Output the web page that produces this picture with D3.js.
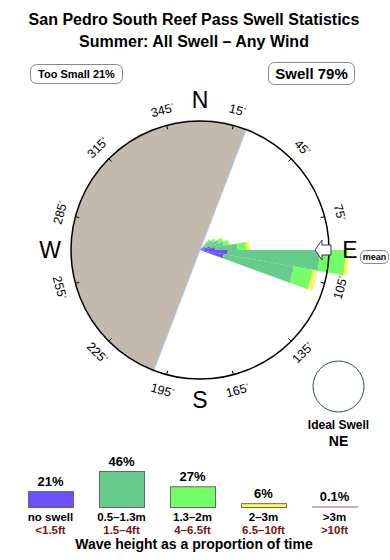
<!DOCTYPE html>
<html>
<head>
<meta charset="utf-8">
<script src="https://cdn.jsdelivr.net/npm/d3@7"></script>
<style>
  body { margin: 0; background: #fff; }
  text { font-family: "Liberation Sans", Arial, Helvetica, sans-serif; }
</style>
</head>
<body>
<div id="chart"></div>
<script>
// ---- data ----
const titleLines = ["San Pedro South Reef Pass Swell Statistics", "Summer: All Swell \u2013 Any Wind"];
const tooSmallPct = 21;
const swellPct = 79;

// rose sectors (compass degrees, 10 deg wide), values in % of time
const sectorStart = [40, 50, 60, 70, 80, 90, 100];
const sectorWidth = 10;
const noSwell = [0.6, 1.0, 1.2, 2.0, 3.0, 5.4, 4.7];
const band05 = [1.5, 1.9, 2.7, 2.7, 4.3, 17.8, 13.8];
const band13 = [0.6, 0.6, 0.8, 1.0, 1.7, 5.0, 3.7];
const band2 = [0.0, 0.0, 0.1, 0.2, 0.6, 0.6, 0.8];
const band3 = [0, 0, 0, 0, 0, 0, 0.05];

const meanDir = 90;
const idealDir = "NE";
const shadowFrom = 201, shadowTo = 381; // sheltered sector

const tickAngles = [15, 45, 75, 105, 135, 165, 195, 225, 255, 285, 315, 345];
const cardinals = [["N", 0], ["E", 90], ["S", 180], ["W", 270]];

const legendPct = [21, 46, 27, 6, 0.1];
const legendPctLabel = ["21%", "46%", "27%", "6%", "0.1%"];
const legendMetric = ["no swell", "0.5\u20131.3m", "1.3\u20132m", "2\u20133m", ">3m"];
const legendFeet = ["<1.5ft", "1.5\u20134ft", "4\u20136.5ft", "6.5\u201310ft", ">10ft"];
const bandColors = ["#6a52ff", "#66cc8c", "#74ff66", "#ffff44", "#c8b0b0"];

// ---- layout ----
const W = 390, H = 560;
const cx = 200, cy = 250, R = 129;

const svg = d3.select("#chart").append("svg")
  .attr("width", W).attr("height", H);

// titles
svg.selectAll(".title")
  .data(titleLines)
  .enter().append("text")
  .attr("class", "title")
  .attr("x", 194)
  .attr("y", (d, i) => 25 + i * 22)
  .attr("text-anchor", "middle")
  .style("font-size", "16px")
  .style("font-weight", "bold")
  .text(d => d);

// summary boxes
function pillBox(x0, x1, y0, y1, label, size) {
  svg.append("rect")
    .attr("x", x0).attr("y", y0)
    .attr("width", x1 - x0).attr("height", y1 - y0)
    .attr("rx", 6)
    .attr("fill", "#fff")
    .attr("stroke", "#888")
    .attr("stroke-width", 1);
  svg.append("text")
    .attr("x", (x0 + x1) / 2)
    .attr("y", (y0 + y1) / 2)
    .attr("dy", "0.36em")
    .attr("text-anchor", "middle")
    .style("font-size", size + "px")
    .style("font-weight", "bold")
    .text(label);
}
pillBox(30.5, 122.5, 64.5, 83.5, `Too Small ${tooSmallPct}%`, 11);
pillBox(268.5, 354.5, 62.5, 84.5, `Swell ${swellPct}%`, 15);

// ---- rose ----
const rose = svg.append("g").attr("transform", `translate(${cx},${cy})`);
const rad = d => d * Math.PI / 180;
const r = d3.scaleLinear().domain([0, 25]).range([0, R]);

// sheltered sector
rose.append("path")
  .attr("d", d3.arc()({ innerRadius: 0, outerRadius: R, startAngle: rad(shadowFrom), endAngle: rad(shadowTo) }))
  .attr("fill", "#c4b9ad");
rose.append("line")
  .attr("x1", R * Math.sin(rad(shadowFrom))).attr("y1", -R * Math.cos(rad(shadowFrom)))
  .attr("x2", R * Math.sin(rad(shadowTo))).attr("y2", -R * Math.cos(rad(shadowTo)))
  .attr("stroke", "#b0cce8").attr("stroke-width", 1);

// stacked wedges
const bands = [noSwell, band05, band13, band2, band3];
const stacked = [];
sectorStart.forEach((s, i) => {
  let acc = 0;
  bands.forEach((b, k) => {
    const v = b[i];
    if (v > 0) stacked.push({ s, k, r0: acc, r1: acc + v });
    acc += v;
  });
});
const wedgeArc = d3.arc()
  .innerRadius(d => r(d.r0))
  .outerRadius(d => r(d.r1))
  .startAngle(d => rad(d.s))
  .endAngle(d => rad(d.s + sectorWidth));
rose.selectAll(".wedge")
  .data(stacked)
  .enter().append("path")
  .attr("class", "wedge")
  .attr("d", wedgeArc)
  .attr("fill", d => bandColors[d.k]);

// outer circle
rose.append("circle")
  .attr("r", R)
  .attr("fill", "none")
  .attr("stroke", "#000")
  .attr("stroke-width", 1.5);

// ticks and degree labels
rose.selectAll(".tick")
  .data(tickAngles)
  .enter().append("line")
  .attr("class", "tick")
  .attr("x1", d => (R - 4) * Math.sin(rad(d)))
  .attr("y1", d => -(R - 4) * Math.cos(rad(d)))
  .attr("x2", d => R * Math.sin(rad(d)))
  .attr("y2", d => -R * Math.cos(rad(d)))
  .attr("stroke", "#000")
  .attr("stroke-width", 1);

const degLabels = rose.selectAll(".deg")
  .data(tickAngles)
  .enter().append("text")
  .attr("class", "deg")
  .attr("transform", d => {
    const x = 145 * Math.sin(rad(d)), y = -145 * Math.cos(rad(d));
    let rot = d;
    if (d > 90 && d < 270) rot = d - 180;
    else if (d >= 270) rot = d - 360;
    return `translate(${x},${y}) rotate(${rot})`;
  })
  .attr("text-anchor", "middle")
  .attr("dy", "0.36em")
  .style("font-size", "12.5px");
degLabels.append("tspan").text(d => d);
degLabels.append("tspan")
  .attr("dy", "-0.5em")
  .style("font-size", "7px")
  .text("\u00b0");

// cardinal letters
rose.selectAll(".card")
  .data(cardinals)
  .enter().append("text")
  .attr("class", "card")
  .attr("x", d => 150 * Math.sin(rad(d[1])))
  .attr("y", d => -150 * Math.cos(rad(d[1])))
  .attr("dy", "0.36em")
  .attr("text-anchor", "middle")
  .style("font-size", "23px")
  .text(d => d[0]);

// mean direction arrow (points toward centre)
const arrowPts = [[115, 0], [122, -10], [122, -5], [131, -5], [131, 5], [122, 5], [122, 10]];
const ma = rad(meanDir);
rose.append("path")
  .attr("d", d3.line()(arrowPts.map(([a, p]) => [
    a * Math.sin(ma) + p * Math.cos(ma),
    -a * Math.cos(ma) + p * Math.sin(ma)
  ])) + "Z")
  .attr("fill", "#fff")
  .attr("stroke", "#334")
  .attr("stroke-width", 1);

svg.append("rect")
  .attr("x", 360.5).attr("y", 250.5)
  .attr("width", 28).attr("height", 13)
  .attr("rx", 5)
  .attr("fill", "#fff").attr("stroke", "#888");
svg.append("text")
  .attr("x", 374.5).attr("y", 257)
  .attr("dy", "0.36em")
  .attr("text-anchor", "middle")
  .style("font-size", "9px")
  .style("font-weight", "bold")
  .text("mean");

// ideal swell marker
svg.append("circle")
  .attr("cx", 338.5).attr("cy", 386.5).attr("r", 25.5)
  .attr("fill", "#fff")
  .attr("stroke", "#2a4a6a")
  .attr("stroke-width", 1);
svg.append("text")
  .attr("x", 338.5).attr("y", 429)
  .attr("text-anchor", "middle")
  .style("font-size", "12px").style("font-weight", "bold")
  .text("Ideal Swell");
svg.append("text")
  .attr("x", 338.5).attr("y", 446)
  .attr("text-anchor", "middle")
  .style("font-size", "14px").style("font-weight", "bold")
  .text(idealDir);

// ---- legend ----
const lx = d3.scaleBand().domain(d3.range(legendPct.length)).range([15, 370])
  .paddingInner(0.366).paddingOuter(0.183);
const lh = d3.scaleLinear().domain([0, 46]).range([0, 37]);
const baseY = 508;

const leg = svg.selectAll(".leg")
  .data(legendPct)
  .enter().append("g")
  .attr("class", "leg");

leg.append("rect")
  .attr("x", (d, i) => lx(i) + 0.5)
  .attr("y", d => baseY - Math.max(lh(d), 2) + 0.5)
  .attr("width", lx.bandwidth())
  .attr("height", d => Math.max(lh(d), 2) - 1)
  .attr("fill", (d, i) => bandColors[i])
  .attr("stroke", (d, i) => i === 4 ? bandColors[i] : "#666")
  .attr("stroke-width", 1);

leg.append("text")
  .attr("x", (d, i) => lx(i) + lx.bandwidth() / 2)
  .attr("y", d => baseY - Math.max(lh(d), 2) - 5)
  .attr("text-anchor", "middle")
  .style("font-size", "13px").style("font-weight", "bold")
  .text((d, i) => legendPctLabel[i]);

leg.append("text")
  .attr("x", (d, i) => lx(i) + lx.bandwidth() / 2)
  .attr("y", 521)
  .attr("text-anchor", "middle")
  .style("font-size", "11.5px").style("font-weight", "bold")
  .text((d, i) => legendMetric[i]);

leg.append("text")
  .attr("x", (d, i) => lx(i) + lx.bandwidth() / 2)
  .attr("y", 534)
  .attr("text-anchor", "middle")
  .style("font-size", "11.5px").style("font-weight", "bold")
  .attr("fill", "#7a1414")
  .text((d, i) => legendFeet[i]);

svg.append("text")
  .attr("x", 194).attr("y", 549)
  .attr("text-anchor", "middle")
  .style("font-size", "14px").style("font-weight", "bold")
  .text("Wave height as a proportion of time");
</script>
</body>
</html>
